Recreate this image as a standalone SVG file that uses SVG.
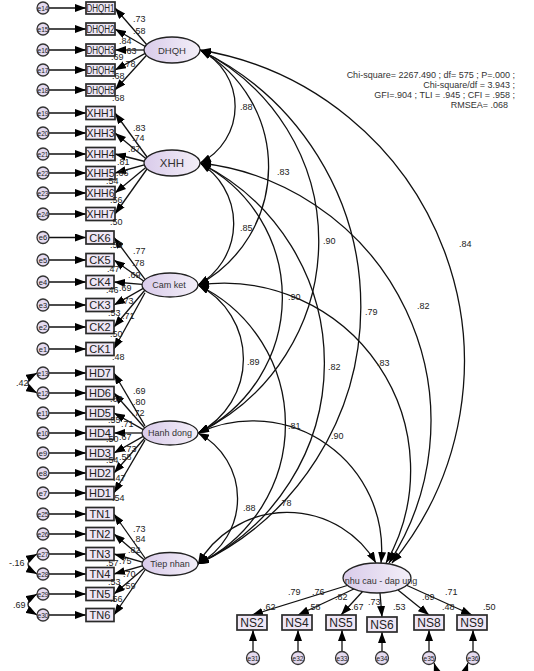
<svg xmlns="http://www.w3.org/2000/svg" width="534" height="671" viewBox="0 0 534 671">
<defs>
<marker id="ah" viewBox="0 0 11 8" refX="11" refY="4" markerWidth="11" markerHeight="8" markerUnits="userSpaceOnUse" orient="auto-start-reverse"><path d="M0,0 L11,4 L0,8 z" fill="#000"/></marker>
<linearGradient id="lg" x1="0" y1="0" x2="1" y2="0"><stop offset="0" stop-color="#d9cbea"/><stop offset="1" stop-color="#f3eff8"/></linearGradient>
<style>
.ln{stroke:#111;stroke-width:1.3;fill:none;marker-end:url(#ah)}
.cv{stroke:#111;stroke-width:1.3;fill:none;marker-start:url(#ah);marker-end:url(#ah)}
.box{fill:#efe7f5;stroke:#2a2a2a;stroke-width:1.7}
.err{fill:#e4daef;stroke:#333;stroke-width:1.3}
.lat{fill:url(#lg);stroke:#222;stroke-width:1.3}
text{font-family:"Liberation Sans",Arial,sans-serif;fill:#222}
.bt{font-size:11px;text-anchor:middle}
.et{font-size:7.5px;text-anchor:middle}
.lt{font-size:9px;text-anchor:middle;fill:#333}
.nl{font-size:9px;fill:#444}
.fit{font-size:9px;fill:#333;text-anchor:end}
</style>
</defs>
<rect width="534" height="671" fill="#fff"/>

<g id="connectors">
<path class="ln" d="M49,8H86"/><path class="ln" d="M49,29H86"/><path class="ln" d="M49,50H86"/><path class="ln" d="M49,70H86"/><path class="ln" d="M49,90H86"/>
<path class="ln" d="M49,113H86"/><path class="ln" d="M49,133H86"/><path class="ln" d="M49,154H86"/><path class="ln" d="M49,173H86"/><path class="ln" d="M49,193H86"/><path class="ln" d="M49,214H86"/>
<path class="ln" d="M49,237.5H86"/><path class="ln" d="M49,260H86"/><path class="ln" d="M49,282H86"/><path class="ln" d="M49,305H86"/><path class="ln" d="M49,327H86"/><path class="ln" d="M49,349H86"/>
<path class="ln" d="M49,373H86"/><path class="ln" d="M49,393H86"/><path class="ln" d="M49,413H86"/><path class="ln" d="M49,433H86"/><path class="ln" d="M49,453H86"/><path class="ln" d="M49,473H86"/><path class="ln" d="M49,493H86"/>
<path class="ln" d="M49,514H86"/><path class="ln" d="M49,534H86"/><path class="ln" d="M49,554H86"/><path class="ln" d="M49,574H86"/><path class="ln" d="M49,594H86"/><path class="ln" d="M49,615H86"/>
<path class="ln" d="M147,45L115,8"/>
<path class="ln" d="M147,47.5L115,29"/>
<path class="ln" d="M147,50L115,50"/>
<path class="ln" d="M147,52.4L115,70"/>
<path class="ln" d="M147,54.8L115,90"/>
<path class="ln" d="M147,157L115,113"/>
<path class="ln" d="M147,159.4L115,133"/>
<path class="ln" d="M147,162L115,154"/>
<path class="ln" d="M147,164.2L115,173"/>
<path class="ln" d="M147,166.6L115,193"/>
<path class="ln" d="M147,169L115,214"/>
<path class="ln" d="M145,279.3L114,237.5"/>
<path class="ln" d="M145,282L114,260"/>
<path class="ln" d="M145,284.6L114,282"/>
<path class="ln" d="M145,287.4L114,305"/>
<path class="ln" d="M145,290L114,327"/>
<path class="ln" d="M145,292.7L114,349"/>
<path class="ln" d="M145,425.8L114,373"/>
<path class="ln" d="M145,428.2L114,393"/>
<path class="ln" d="M145,430.6L114,413"/>
<path class="ln" d="M145,433L114,433"/>
<path class="ln" d="M145,435.4L114,453"/>
<path class="ln" d="M145,437.8L114,473"/>
<path class="ln" d="M145,440.2L114,493"/>
<path class="ln" d="M145,558L114,514"/>
<path class="ln" d="M145,560.4L114,534"/>
<path class="ln" d="M145,562.8L114,554"/>
<path class="ln" d="M145,565.2L114,574"/>
<path class="ln" d="M145,567.6L114,594"/>
<path class="ln" d="M145,570L114,615"/>
<path class="ln" d="M352,584L252,615"/>
<path class="ln" d="M356,588L298,615"/>
<path class="ln" d="M363,591L341,615"/>
<path class="ln" d="M380,593L382,617"/>
<path class="ln" d="M398,590L429,615"/>
<path class="ln" d="M406,585L472,615"/>
<path class="ln" d="M253,651.5V630"/><path class="ln" d="M298,651.5V630"/><path class="ln" d="M342,651.5V630"/><path class="ln" d="M382,651.5V632"/><path class="ln" d="M429,651.5V630"/><path class="ln" d="M473,651.5V630"/>
<path class="cv" d="M37,373Q19,383 37,393"/>
<path class="cv" d="M37,554Q19,564 37,574"/>
<path class="cv" d="M37,594Q19,604.5 37,615"/>
<path class="cv" d="M434,663C441,684 461,684 468,663"/>
<path class="cv" d="M200,50A63,63 0 0 1 200,163"/>
<path class="cv" d="M200,163A71,71 0 0 1 198,285"/>
<path class="cv" d="M198,285A83,83 0 0 1 198,433"/>
<path class="cv" d="M198,433A74,74 0 0 1 198,564"/>
<path class="cv" d="M200,50A134,134 0 0 1 198,285"/>
<path class="cv" d="M200,163A151,151 0 0 1 198,433"/>
<path class="cv" d="M200,50A213,213 0 0 1 198,433"/>
<path class="cv" d="M198,285A155,155 0 0 1 198,564"/>
<path class="cv" d="M200,163A223,223 0 0 1 198,564"/>
<path class="cv" d="M200,50A285,285 0 0 1 198,564"/>
<path class="cv" d="M200,50A316,316 0 0 1 392,563"/>
<path class="cv" d="M200,163A260,260 0 0 1 389,563"/>
<path class="cv" d="M198,285A187,187 0 0 1 386,563"/>
<path class="cv" d="M198,433A129,129 0 0 1 381,563"/>
<path class="cv" d="M198,564A103,103 0 0 1 376,563"/>
</g>

<g id="DHQH"><ellipse class="lat" cx="172" cy="50" rx="28" ry="13"/><text class="lt" x="172" y="53.5" style="font-size:9.5px">DHQH</text></g>
<g id="XHH"><ellipse class="lat" cx="172" cy="163" rx="28" ry="13"/><text class="lt" x="172" y="167" style="font-size:11.5px">XHH</text></g>
<g id="CamKet"><ellipse class="lat" cx="170" cy="285" rx="28" ry="12"/><text class="lt" x="169" y="288">Cam ket</text></g>
<g id="HanhDong"><ellipse class="lat" cx="170" cy="433" rx="28" ry="12"/><text class="lt" x="170" y="436">Hanh dong</text></g>
<g id="TiepNhan"><ellipse class="lat" cx="170" cy="564" rx="28" ry="11.5"/><text class="lt" x="170" y="567">Tiep nhan</text></g>
<g id="NhuCau"><ellipse class="lat" cx="377" cy="578" rx="34" ry="15"/><text class="lt" x="381" y="584">nhu cau - dap ung</text></g>

<g id="DHQH1"><rect class="box" x="86" y="2" width="29" height="12"/><text class="bt" x="100.5" y="11.5" style="font-size:10px" textLength="28" lengthAdjust="spacingAndGlyphs">DHQH1</text></g>
<g id="DHQH2"><rect class="box" x="86" y="23" width="29" height="12"/><text class="bt" x="100.5" y="32.5" style="font-size:10px" textLength="28" lengthAdjust="spacingAndGlyphs">DHQH2</text></g>
<g id="DHQH3"><rect class="box" x="86" y="44" width="29" height="12"/><text class="bt" x="100.5" y="53.5" style="font-size:10px" textLength="28" lengthAdjust="spacingAndGlyphs">DHQH3</text></g>
<g id="DHQH4"><rect class="box" x="86" y="64" width="29" height="12"/><text class="bt" x="100.5" y="73.5" style="font-size:10px" textLength="28" lengthAdjust="spacingAndGlyphs">DHQH4</text></g>
<g id="DHQH5"><rect class="box" x="86" y="84" width="29" height="12"/><text class="bt" x="100.5" y="93.5" style="font-size:10px" textLength="28" lengthAdjust="spacingAndGlyphs">DHQH5</text></g>
<g id="XHH1"><rect class="box" x="86" y="106.5" width="29" height="13"/><text class="bt" x="100.5" y="117" textLength="28" lengthAdjust="spacingAndGlyphs">XHH1</text></g>
<g id="XHH3"><rect class="box" x="86" y="126.5" width="29" height="13"/><text class="bt" x="100.5" y="137" textLength="28" lengthAdjust="spacingAndGlyphs">XHH3</text></g>
<g id="XHH4"><rect class="box" x="86" y="147.5" width="29" height="13"/><text class="bt" x="100.5" y="158" textLength="28" lengthAdjust="spacingAndGlyphs">XHH4</text></g>
<g id="XHH5"><rect class="box" x="86" y="166.5" width="29" height="13"/><text class="bt" x="100.5" y="177" textLength="28" lengthAdjust="spacingAndGlyphs">XHH5</text></g>
<g id="XHH6"><rect class="box" x="86" y="186.5" width="29" height="13"/><text class="bt" x="100.5" y="197" textLength="28" lengthAdjust="spacingAndGlyphs">XHH6</text></g>
<g id="XHH7"><rect class="box" x="86" y="207.5" width="29" height="13"/><text class="bt" x="100.5" y="218" textLength="28" lengthAdjust="spacingAndGlyphs">XHH7</text></g>
<g id="CK6"><rect class="box" x="86" y="231" width="28" height="13"/><text class="bt" x="100" y="241.5">CK6</text></g>
<g id="CK5"><rect class="box" x="86" y="253.5" width="28" height="13"/><text class="bt" x="100" y="264">CK5</text></g>
<g id="CK4"><rect class="box" x="86" y="275.5" width="28" height="13"/><text class="bt" x="100" y="286">CK4</text></g>
<g id="CK3"><rect class="box" x="86" y="298.5" width="28" height="13"/><text class="bt" x="100" y="309">CK3</text></g>
<g id="CK2"><rect class="box" x="86" y="320.5" width="28" height="13"/><text class="bt" x="100" y="331">CK2</text></g>
<g id="CK1"><rect class="box" x="86" y="342.5" width="28" height="13"/><text class="bt" x="100" y="353">CK1</text></g>
<g id="HD7"><rect class="box" x="86" y="366.5" width="28" height="13"/><text class="bt" x="100" y="377">HD7</text></g>
<g id="HD6"><rect class="box" x="86" y="386.5" width="28" height="13"/><text class="bt" x="100" y="397">HD6</text></g>
<g id="HD5"><rect class="box" x="86" y="406.5" width="28" height="13"/><text class="bt" x="100" y="417">HD5</text></g>
<g id="HD4"><rect class="box" x="86" y="426.5" width="28" height="13"/><text class="bt" x="100" y="437">HD4</text></g>
<g id="HD3"><rect class="box" x="86" y="446.5" width="28" height="13"/><text class="bt" x="100" y="457">HD3</text></g>
<g id="HD2"><rect class="box" x="86" y="466.5" width="28" height="13"/><text class="bt" x="100" y="477">HD2</text></g>
<g id="HD1"><rect class="box" x="86" y="486.5" width="28" height="13"/><text class="bt" x="100" y="497">HD1</text></g>
<g id="TN1"><rect class="box" x="86" y="507.5" width="28" height="13"/><text class="bt" x="100" y="518">TN1</text></g>
<g id="TN2"><rect class="box" x="86" y="527.5" width="28" height="13"/><text class="bt" x="100" y="538">TN2</text></g>
<g id="TN3"><rect class="box" x="86" y="547.5" width="28" height="13"/><text class="bt" x="100" y="558">TN3</text></g>
<g id="TN4"><rect class="box" x="86" y="567.5" width="28" height="13"/><text class="bt" x="100" y="578">TN4</text></g>
<g id="TN5"><rect class="box" x="86" y="587.5" width="28" height="13"/><text class="bt" x="100" y="598">TN5</text></g>
<g id="TN6"><rect class="box" x="86" y="608.5" width="28" height="13"/><text class="bt" x="100" y="619">TN6</text></g>
<g id="NS2"><rect class="box" x="237" y="615" width="30" height="15"/><text class="bt" x="252" y="627" style="font-size:12px">NS2</text></g>
<g id="NS4"><rect class="box" x="282" y="615" width="30" height="15"/><text class="bt" x="297" y="627" style="font-size:12px">NS4</text></g>
<g id="NS5"><rect class="box" x="326" y="615" width="30" height="15"/><text class="bt" x="341" y="627" style="font-size:12px">NS5</text></g>
<g id="NS6"><rect class="box" x="367" y="617" width="30" height="15"/><text class="bt" x="382" y="629" style="font-size:12px">NS6</text></g>
<g id="NS8"><rect class="box" x="414" y="615" width="30" height="15"/><text class="bt" x="429" y="627" style="font-size:12px">NS8</text></g>
<g id="NS9"><rect class="box" x="457" y="615" width="30" height="15"/><text class="bt" x="472" y="627" style="font-size:12px">NS9</text></g>

<g id="errors">
<g id="e14"><circle class="err" cx="43" cy="8" r="6"/><text class="et" x="43" y="10.7" textLength="11" lengthAdjust="spacingAndGlyphs">e14</text></g>
<g id="e15"><circle class="err" cx="43" cy="29" r="6"/><text class="et" x="43" y="31.7" textLength="11" lengthAdjust="spacingAndGlyphs">e15</text></g>
<g id="e16"><circle class="err" cx="43" cy="50" r="6"/><text class="et" x="43" y="52.7" textLength="11" lengthAdjust="spacingAndGlyphs">e16</text></g>
<g id="e17"><circle class="err" cx="43" cy="70" r="6"/><text class="et" x="43" y="72.7" textLength="11" lengthAdjust="spacingAndGlyphs">e17</text></g>
<g id="e18"><circle class="err" cx="43" cy="90" r="6"/><text class="et" x="43" y="92.7" textLength="11" lengthAdjust="spacingAndGlyphs">e18</text></g>
<g id="e19"><circle class="err" cx="43" cy="113" r="6"/><text class="et" x="43" y="115.7" textLength="11" lengthAdjust="spacingAndGlyphs">e19</text></g>
<g id="e20"><circle class="err" cx="43" cy="133" r="6"/><text class="et" x="43" y="135.7" textLength="11" lengthAdjust="spacingAndGlyphs">e20</text></g>
<g id="e21"><circle class="err" cx="43" cy="154" r="6"/><text class="et" x="43" y="156.7" textLength="11" lengthAdjust="spacingAndGlyphs">e21</text></g>
<g id="e22"><circle class="err" cx="43" cy="173" r="6"/><text class="et" x="43" y="175.7" textLength="11" lengthAdjust="spacingAndGlyphs">e22</text></g>
<g id="e23"><circle class="err" cx="43" cy="193" r="6"/><text class="et" x="43" y="195.7" textLength="11" lengthAdjust="spacingAndGlyphs">e23</text></g>
<g id="e24"><circle class="err" cx="43" cy="214" r="6"/><text class="et" x="43" y="216.7" textLength="11" lengthAdjust="spacingAndGlyphs">e24</text></g>
<g id="e6"><circle class="err" cx="43" cy="237.5" r="6"/><text class="et" x="43" y="240.2">e6</text></g>
<g id="e5"><circle class="err" cx="43" cy="260" r="6"/><text class="et" x="43" y="262.7">e5</text></g>
<g id="e4"><circle class="err" cx="43" cy="282" r="6"/><text class="et" x="43" y="284.7">e4</text></g>
<g id="e3"><circle class="err" cx="43" cy="305" r="6"/><text class="et" x="43" y="307.7">e3</text></g>
<g id="e2"><circle class="err" cx="43" cy="327" r="6"/><text class="et" x="43" y="329.7">e2</text></g>
<g id="e1"><circle class="err" cx="43" cy="349" r="6"/><text class="et" x="43" y="351.7">e1</text></g>
<g id="e13"><circle class="err" cx="43" cy="373" r="6"/><text class="et" x="43" y="375.7" textLength="11" lengthAdjust="spacingAndGlyphs">e13</text></g>
<g id="e12"><circle class="err" cx="43" cy="393" r="6"/><text class="et" x="43" y="395.7" textLength="11" lengthAdjust="spacingAndGlyphs">e12</text></g>
<g id="e11"><circle class="err" cx="43" cy="413" r="6"/><text class="et" x="43" y="415.7" textLength="11" lengthAdjust="spacingAndGlyphs">e11</text></g>
<g id="e10"><circle class="err" cx="43" cy="433" r="6"/><text class="et" x="43" y="435.7" textLength="11" lengthAdjust="spacingAndGlyphs">e10</text></g>
<g id="e9"><circle class="err" cx="43" cy="453" r="6"/><text class="et" x="43" y="455.7">e9</text></g>
<g id="e8"><circle class="err" cx="43" cy="473" r="6"/><text class="et" x="43" y="475.7">e8</text></g>
<g id="e7"><circle class="err" cx="43" cy="493" r="6"/><text class="et" x="43" y="495.7">e7</text></g>
<g id="e25"><circle class="err" cx="43" cy="514" r="6"/><text class="et" x="43" y="516.7" textLength="11" lengthAdjust="spacingAndGlyphs">e25</text></g>
<g id="e26"><circle class="err" cx="43" cy="534" r="6"/><text class="et" x="43" y="536.7" textLength="11" lengthAdjust="spacingAndGlyphs">e26</text></g>
<g id="e27"><circle class="err" cx="43" cy="554" r="6"/><text class="et" x="43" y="556.7" textLength="11" lengthAdjust="spacingAndGlyphs">e27</text></g>
<g id="e28"><circle class="err" cx="43" cy="574" r="6"/><text class="et" x="43" y="576.7" textLength="11" lengthAdjust="spacingAndGlyphs">e28</text></g>
<g id="e29"><circle class="err" cx="43" cy="594" r="6"/><text class="et" x="43" y="596.7" textLength="11" lengthAdjust="spacingAndGlyphs">e29</text></g>
<g id="e30"><circle class="err" cx="43" cy="615" r="6"/><text class="et" x="43" y="617.7" textLength="11" lengthAdjust="spacingAndGlyphs">e30</text></g>
<g id="e31"><circle class="err" cx="253" cy="658" r="6.5"/><text class="et" x="253" y="660.7" textLength="11" lengthAdjust="spacingAndGlyphs">e31</text></g>
<g id="e32"><circle class="err" cx="298" cy="658" r="6.5"/><text class="et" x="298" y="660.7" textLength="11" lengthAdjust="spacingAndGlyphs">e32</text></g>
<g id="e33"><circle class="err" cx="342" cy="658" r="6.5"/><text class="et" x="342" y="660.7" textLength="11" lengthAdjust="spacingAndGlyphs">e33</text></g>
<g id="e34"><circle class="err" cx="382" cy="658" r="6.5"/><text class="et" x="382" y="660.7" textLength="11" lengthAdjust="spacingAndGlyphs">e34</text></g>
<g id="e35"><circle class="err" cx="429" cy="658" r="6.5"/><text class="et" x="429" y="660.7" textLength="11" lengthAdjust="spacingAndGlyphs">e35</text></g>
<g id="e36"><circle class="err" cx="473" cy="658" r="6.5"/><text class="et" x="473" y="660.7" textLength="11" lengthAdjust="spacingAndGlyphs">e36</text></g>
</g>

<g id="estimates" class="nl">
<text x="133" y="22">.73</text><text x="133" y="34">.58</text><text x="119" y="44">.84</text><text x="111" y="60">.69</text><text x="124" y="54">.63</text><text x="123" y="67">.78</text><text x="112" y="79">.68</text><text x="112" y="101">.68</text>
<text x="133" y="131">.83</text><text x="132" y="141">.74</text><text x="128" y="152">.87</text><text x="117" y="165">.81</text><text x="116" y="176">.66</text><text x="106" y="184">.54</text><text x="110" y="203">.56</text><text x="110" y="225">.50</text>
<text x="133" y="254">.77</text><text x="132" y="266">.78</text><text x="128" y="278">.69</text><text x="110" y="248">.59</text><text x="107" y="272">.47</text><text x="106" y="293">.46</text><text x="119" y="291">.69</text><text x="121" y="304">.73</text><text x="108" y="316">.53</text><text x="122" y="319">.71</text><text x="110" y="337">.50</text><text x="112" y="360">.48</text>
<text x="133" y="394">.69</text><text x="133" y="405">.80</text><text x="132" y="416">.72</text><text x="110" y="402">.64</text><text x="108" y="423">.55</text><text x="121" y="427">.71</text><text x="106" y="442">.50</text><text x="119" y="440">.67</text><text x="124" y="452">.73</text><text x="106" y="463">.54</text><text x="119" y="460">.58</text><text x="113" y="481">.47</text><text x="112" y="501">.54</text>
<text x="133" y="532">.73</text><text x="133" y="542">.84</text><text x="128" y="553">.82</text><text x="106" y="566">.57</text><text x="119" y="564">.75</text><text x="123" y="577">.70</text><text x="108" y="585">.53</text><text x="123" y="589">.59</text><text x="110" y="602">.56</text>
<text x="16" y="386">.42</text><text x="9" y="566">-.16</text><text x="13" y="608">.69</text>
<text x="240" y="110">.88</text><text x="240" y="231">.85</text><text x="277" y="175">.83</text><text x="323" y="244">.90</text><text x="288" y="300">.90</text><text x="365" y="315">.79</text><text x="247" y="365">.89</text><text x="328" y="370">.82</text><text x="377" y="366">.83</text><text x="288" y="429">.81</text><text x="331" y="439">.90</text><text x="243" y="511">.88</text><text x="279" y="506">.78</text><text x="417" y="309">.82</text><text x="459" y="247">.84</text>
<text x="288" y="595">.79</text><text x="312" y="595">.76</text><text x="335" y="600">.82</text><text x="368" y="605">.73</text><text x="422" y="600">.69</text><text x="445" y="595">.71</text>
<text x="263" y="610">.62</text><text x="308" y="610">.58</text><text x="351" y="610">.67</text><text x="393" y="610">.53</text><text x="442" y="610">.48</text><text x="483" y="610">.50</text>
</g>

<g id="fit">
<text class="fit" x="515" y="78">Chi-square= 2267.490 ; df= 575 ; P=.000 ;</text>
<text class="fit" x="515" y="88">Chi-square/df = 3.943 ;</text>
<text class="fit" x="515" y="98">GFI=.904 ; TLI = .945 ; CFI = .958 ;</text>
<text class="fit" x="508" y="108">RMSEA= .068</text>
</g>
</svg>
